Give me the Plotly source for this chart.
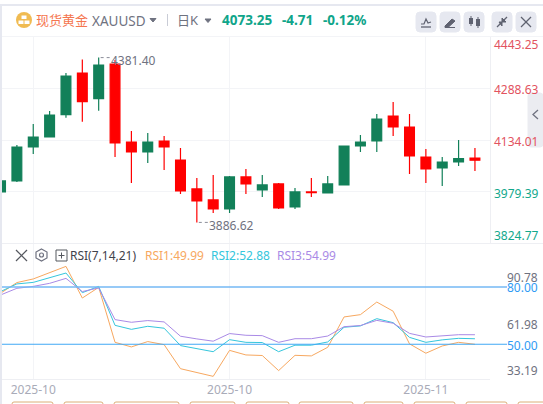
import plotly.graph_objects as go

dates = ["2025-10-10","2025-10-13","2025-10-14","2025-10-15","2025-10-16","2025-10-17","2025-10-20","2025-10-21",
         "2025-10-22","2025-10-23","2025-10-24","2025-10-27","2025-10-28","2025-10-29","2025-10-30","2025-10-31",
         "2025-11-03","2025-11-04","2025-11-05","2025-11-06","2025-11-07","2025-11-10","2025-11-11","2025-11-12",
         "2025-11-13","2025-11-14","2025-11-17","2025-11-18","2025-11-19","2025-11-20"]
opens = [3978,4011,4113,4143,4210,4335,4258,4362,4128,4098,4131,4074,3987,3954,3927,4023,3984,4002,3933,3978,3975,3999,4116,4131,4206,4173,4083,4050,4068,4080]
highs = [4011,4119,4182,4221,4335,4376,4381.40,4374,4161,4155,4146,4110,4020,4029,4026,4047,4029,4005,3990,4020,4026,4116,4149,4212,4248,4212,4107,4083,4134,4110]
lows = [3978,4008,4092,4143,4201,4189,4222,4083,4005,4065,4044,3972,3886.62,3915,3915,3972,3963,3927,3927,3963,3975,3999,4098,4098,4146,4032,4005,3996,4056,4041]
closes = [4011,4113,4143,4209,4326,4249,4359,4125,4098,4128,4113,3981,3951,3927,4023,4002,3999,3930,3978,3976,4002,4116,4128,4197,4173,4086,4047,4068,4077.96,4073.25]
rsi1 = [76.7,82.3,84.2,87.5,90.78,74.2,79.8,51.0,48.6,51.4,49.8,37.2,35.2,33.19,46.8,44.4,44.1,36.2,44.2,43.9,48.4,64.3,65.5,72.1,67.3,50.2,45.3,49.1,51.0,49.99]
rsi2 = [77.6,81.6,82.4,84.9,87.3,77.0,80.3,59.9,57.8,59.4,58.4,49.3,47.7,46.1,52.4,51.0,50.9,46.1,49.5,49.5,51.2,58.9,59.6,63.4,61.3,53.6,51.0,52.3,53.1,52.88]
rsi3 = [75.8,79.3,80.3,81.9,84.5,77.6,79.5,62.9,61.5,62.4,61.7,54.2,52.8,51.6,55.6,54.7,54.5,51.0,52.9,52.9,54.3,59.2,59.8,62.5,61.0,55.7,53.8,54.5,55.0,54.99]
price_ticks = [4443.25,4288.63,4134.01,3979.39,3824.77]
rsi_ticks = [90.78,80.00,61.98,50.00,33.19]
x_tick_dates = ["2025-10-14","2025-10-30","2025-11-17"]
x_tick_text = ["2025-10","2025-10","2025-11"]
last_close = 4073.25
FONT = "Noto Sans, Noto Sans CJK SC, sans-serif"
W, H = 543, 404
GREEN, RED = "#128059", "#ff0000"
X = lambda p: p / W
Y = lambda p: 1 - p / H

fig = go.Figure()
fig.add_trace(go.Candlestick(x=dates, open=opens, high=highs, low=lows, close=closes, xaxis="x", yaxis="y",
    increasing=dict(line=dict(color=GREEN, width=1.2), fillcolor=GREEN),
    decreasing=dict(line=dict(color=RED, width=1.2), fillcolor=RED), whiskerwidth=0, showlegend=False))
for vals, c in ((rsi1, "#f7a860"), (rsi2, "#35c6dc"), (rsi3, "#a98ae6")):
    fig.add_trace(go.Scatter(x=dates, y=vals, mode="lines", line=dict(color=c, width=1), xaxis="x", yaxis="y2", showlegend=False))

shapes, ann = [], []
def rect(x0, y0, x1, y1, fill, line=None, r=0):
    if r:
        p = (f"M{X(x0+r)},{Y(y0)} L{X(x1-r)},{Y(y0)} Q{X(x1)},{Y(y0)} {X(x1)},{Y(y0+r)} L{X(x1)},{Y(y1-r)} "
             f"Q{X(x1)},{Y(y1)} {X(x1-r)},{Y(y1)} L{X(x0+r)},{Y(y1)} Q{X(x0)},{Y(y1)} {X(x0)},{Y(y1-r)} "
             f"L{X(x0)},{Y(y0+r)} Q{X(x0)},{Y(y0)} {X(x0+r)},{Y(y0)} Z")
        shapes.append(dict(type="path", path=p, xref="paper", yref="paper", fillcolor=fill, line=dict(color=line or fill, width=1)))
    else:
        shapes.append(dict(type="rect", xref="paper", yref="paper", x0=X(x0), x1=X(x1), y0=Y(y0), y1=Y(y1),
                           fillcolor=fill, line=dict(width=1 if line else 0, color=line or fill)))
def seg(pts, color, w=1.2, fill=None, close=False):
    p = "M" + " L".join(f"{X(a)},{Y(b)}" for a, b in pts) + (" Z" if close else "")
    shapes.append(dict(type="path", path=p, xref="paper", yref="paper", line=dict(color=color, width=w),
                       fillcolor=fill or "rgba(0,0,0,0)"))
def txt(x, y, s, color, size=12, anchor="left", bold=False):
    ann.append(dict(x=X(x), y=Y(y), xref="paper", yref="paper", text=f"<b>{s}</b>" if bold else s, showarrow=False,
                    xanchor=anchor, yanchor="middle", font=dict(color=color, size=size, family=FONT), borderpad=0, borderwidth=0))

# page frame
rect(0, 4, 543, 6, "#e6e8f0")
rect(0, 6, 2, 404, "#e6e8f0")
seg([(2, 36.5), (543, 36.5)], "#f3f4f7", 1)
seg([(2, 243.5), (543, 243.5)], "#eeeff3", 1)
seg([(2, 379.5), (490, 379.5)], "#eeeff3", 1)
seg([(490.5, 37), (490.5, 243)], "#eeeff3", 1)
# header
shapes.append(dict(type="circle", xref="paper", yref="paper", x0=X(16), x1=X(32), y0=Y(28), y1=Y(12), fillcolor="#f0bb52", line=dict(width=0)))
for a, b in ((21.5, 15.5), (18.5, 20.5), (24.5, 20.5)):
    rect(a, b, a + 5, b + 3.5, "#ffffff")
txt(36, 19.5, "现货黄金", "#f5764f", 13)
txt(92, 20.5, "XAUUSD", "#6f7280", 13.5)
seg([(150, 18.5), (156, 18.5), (153, 22)], "#6f7280", 1, "#6f7280", True)
seg([(167.5, 14), (167.5, 26)], "#c9ccd6", 1)
txt(177, 19.5, "日K", "#6f7280", 13)
seg([(205, 19), (211, 19), (208, 22.5)], "#6f7280", 1, "#6f7280", True)
txt(222, 19.5, "4073.25", "#10a58a", 13.5, bold=True)
txt(282, 19.5, "-4.71", "#10a58a", 13.5, bold=True)
txt(323, 19.5, "-0.12%", "#10a58a", 13.5, bold=True)
for a in (416, 440, 464, 492, 516):
    rect(a, 12, a + 20, 32, "#e6e8f0", r=4)
ic = "#5f6270"
seg([(421, 24), (424, 24), (426, 19), (428, 23), (431, 22)], ic, 1.2)
seg([(421, 27), (431, 27)], ic, 1.3)
seg([(445, 26), (452, 19), (455, 21), (448, 27.5), (445, 27.5)], ic, 1, ic, True)
seg([(445, 27.5), (455, 27.5)], ic, 1)
rect(469, 18, 473, 24, ic); rect(476, 19, 480, 26, ic)
seg([(471, 16), (471, 26)], ic, 1); seg([(478, 17), (478, 28)], ic, 1)
seg([(497, 27), (501, 23)], ic, 1.3); seg([(503, 21), (507, 17)], ic, 1.3)
seg([(499, 22), (502, 22), (502, 26)], ic, 1, ic, True); seg([(502, 18), (502, 22), (506, 22)], ic, 1, ic, True)
seg([(521, 17), (531, 27)], ic, 1.2); seg([(531, 17), (521, 27)], ic, 1.2)
# collapse tab
rect(528, 93, 543, 147, "#ebecf1", r=3)
seg([(538, 110), (533, 114.5), (538, 119)], "#6f7280", 1.3)
# reference lines
for v, c, w in ((80.0, "#74b8f5", 1.6), (50.0, "#40a9f5", 1.2)):
    shapes.append(dict(type="line", xref="paper", yref="y2", x0=X(2), x1=X(507), y0=v, y1=v, line=dict(color=c, width=w)))
# price labels
for v, sh in zip(price_ticks, (-8, -1, -1, -2, 8)):
    ann.append(dict(x=X(494), y=v, xref="paper", yref="y", text=f"{v:.2f}", showarrow=False, xanchor="left", yanchor="middle",
                    yshift=sh, borderpad=0, borderwidth=0, font=dict(color="#e2535f" if v > last_close else "#12a88c", size=12, family=FONT)))
for v, sh, c in zip(rsi_ticks, (-11, -1, -3, -1, 6), ("#6f7280", "#2f9bf4", "#6f7280", "#2f9bf4", "#6f7280")):
    ann.append(dict(x=X(507), y=v, xref="paper", yref="y2", text=f"{v:.2f}", showarrow=False, xanchor="left", yanchor="middle",
                    yshift=sh, borderpad=0, borderwidth=0, font=dict(color=c, size=12, family=FONT)))
# extreme labels
for d, v, idx, sh in ((dates[6], max(highs), 6, -3), (dates[12], min(lows), 12, -3)):
    ann.append(dict(x=d, y=v, xref="x", yref="y", text=f"{v:.2f}", showarrow=False, xanchor="left", yanchor="middle",
                    xshift=12, yshift=sh, borderpad=0, borderwidth=0, font=dict(color="#6f7280", size=12, family=FONT)))
    shapes.append(dict(type="line", xref="x", yref="y", x0=idx + 0.12, x1=idx + 0.75, y0=v, y1=v, line=dict(color="#8a8d99", width=1, dash="dot")))
# RSI header
seg([(16, 250), (27, 261)], "#55585f", 1.2); seg([(27, 250), (16, 261)], "#55585f", 1.2)
seg([(41.5, 249), (47, 252), (47, 258), (41.5, 261), (36, 258), (36, 252)], "#6f7280", 1.2, None, True)
shapes.append(dict(type="circle", xref="paper", yref="paper", x0=X(39.5), x1=X(43.5), y0=Y(257), y1=Y(253), line=dict(color="#6f7280", width=1.2)))
rect(56, 250, 67, 261, "rgba(0,0,0,0)", "#55585f")
seg([(58.5, 255.5), (64.5, 255.5)], "#55585f", 1); seg([(61.5, 252.5), (61.5, 258.5)], "#55585f", 1)
txt(70, 255.5, "RSI(7,14,21)", "#3f424c", 12)
txt(145, 255.5, "RSI1:49.99", "#f7a860", 12)
txt(211, 255.5, "RSI2:52.88", "#35c6dc", 12)
txt(277, 255.5, "RSI3:54.99", "#a98ae6", 12)
# bottom tabs
for a, b in ((12, 53), (64, 103), (114, 179), (190, 235), (246, 289), (299, 353), (364, 403), (414, 455), (466, 507), (518, 560)):
    rect(a, 402, b, 412, "#ffffff", "#dcae78", r=2)

fig.update_layout(
    width=W, height=H, autosize=False, margin=dict(l=0, r=0, t=0, b=0, pad=0),
    paper_bgcolor="#ffffff", plot_bgcolor="#ffffff", showlegend=False, hovermode=False,
    shapes=shapes, annotations=ann, boxgap=0.25, boxgroupgap=0.2, font=dict(family=FONT),
    xaxis=dict(domain=[X(2), X(490)], type="category", categoryorder="array", categoryarray=dates, range=[0.09, 29.92], anchor="y2",
               rangeslider=dict(visible=False), tickmode="array", tickvals=x_tick_dates, ticktext=x_tick_text,
               showgrid=True, gridcolor="#f3f4f7", gridwidth=1, ticks="", showline=False, zeroline=False, ticklabelstandoff=2,
               tickfont=dict(color="#a9abb8", size=12, family=FONT), tickangle=0),
    yaxis=dict(domain=[Y(243), Y(37)], range=[3824.77, 4443.25], side="right", anchor="x", tickmode="array", tickvals=price_ticks,
               showticklabels=False, showgrid=True, gridcolor="#f3f4f7", gridwidth=1, zeroline=False, ticks="", showline=False),
    yaxis2=dict(domain=[Y(379), Y(244)], range=[31.8, 102.5], side="right", anchor="x", showticklabels=False, showgrid=False,
                zeroline=False, ticks="", showline=False),
)
fig.write_html("out.html", config=dict(displayModeBar=False),
               post_script="document.body.style.margin='0';document.body.style.overflow='hidden';")
